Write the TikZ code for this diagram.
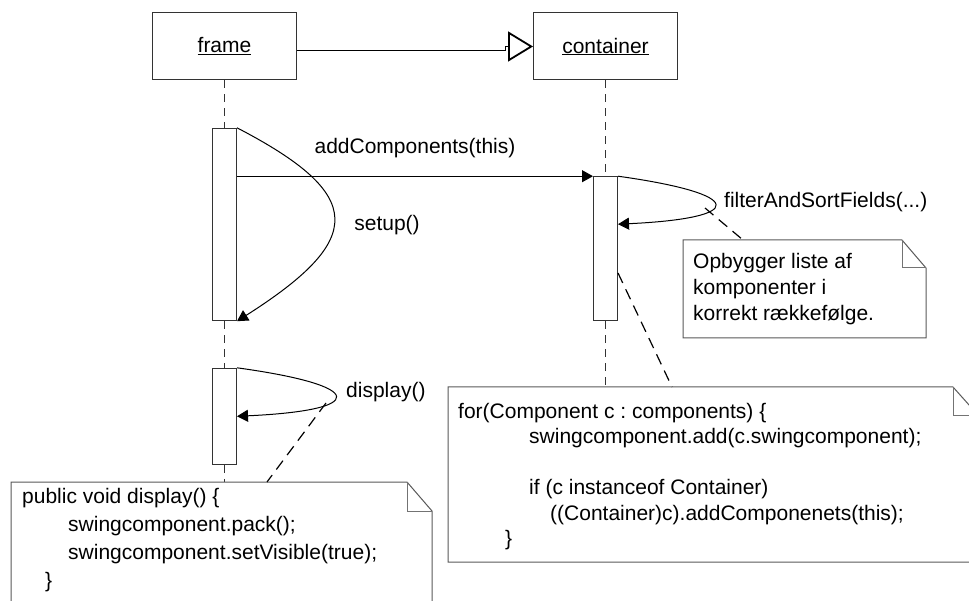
\documentclass[tikz,border=0pt]{standalone}
\usepackage{fontspec}
\setmainfont{Liberation Sans}
\usetikzlibrary{arrows.meta,calc}
\frenchspacing

\tikzset{
  txt/.style={font=\fontsize{21}{26}\selectfont},
  objbox/.style={draw=black!80, line width=1pt, minimum width=144pt, minimum height=67pt, inner sep=0pt, txt},
  actbox/.style={draw=black!80, fill=white, line width=1pt, minimum width=24pt, inner sep=0pt},
  lifeline/.style={draw=black!80, line width=1pt, dash pattern=on 8pt off 6pt},
  msg/.style={line width=1pt, -{Triangle[length=11pt,width=12pt]}},
  inherit/.style={line width=1pt, -{Triangle[open,length=25pt,width=30pt,line width=1.8pt]}},
  msglabel/.style={txt, inner sep=0pt},
  notebody/.style={draw=black!65, line width=1pt, fill=white},
  notefold/.style={draw=black!55, line width=1pt},
  notelink/.style={line width=1.2pt, dash pattern=on 11pt off 7pt},
  notetext/.style={txt, align=left, inner sep=0pt, anchor=north west},
}

\begin{document}
\begin{tikzpicture}[x=1pt, y=-1pt]
\clip (0,0) rectangle (969,601);

% objects
\node[objbox] (frame) at (224.5,46.5) {\underline{frame}};
\node[objbox] (container) at (605.5,46.5) {\underline{container}};

% generalisation from frame to container
\coordinate (jog) at (505,46.5);
\draw[inherit] (frame.east |- 0,51) -- (jog |- 0,51) -- (jog) -- (container.west);

% lifelines
\node[actbox, minimum height=192.4pt] (act1) at (224.5,224.5) {};
\node[actbox, minimum height=144pt]   (act2) at (605.5,248.7) {};
\node[actbox, minimum height=96pt]    (act3) at (224.5,416.3) {};

\coordinate (n3top) at (224.5,482);
\coordinate (n2top) at (605.5,387);
\draw[lifeline] (frame.south) -- (act1.north);
\draw[lifeline] (act1.south) -- (act3.north);
\draw[lifeline] (act3.south) -- (n3top);
\draw[lifeline] (container.south) -- (act2.north);
\draw[lifeline] (act2.south) -- (n2top);

% messages
\draw[msg] (act1.east |- act2.north) -- (act2.north west);
\node[msglabel] (lblAdd) at (415,148) {addComponents(this)};

\draw[msg] (act1.north east) .. controls +(129,67) and +(129,-82) .. (act1.south east);
\node[msglabel] (lblSetup) at (387,225) {setup()};

\coordinate (fret) at ($(act2.north east)+(0,48)$);
\draw[msg] (act2.north east) .. controls +(129,18) and +(129,-6) .. (fret);
\node[msglabel, anchor=west] (lblFilter) at (724,202) {filterAndSortFields(...)};

\coordinate (dret) at ($(act3.north east)+(0,48.5)$);
\draw[msg] (act3.north east) .. controls +(131,18) and +(131,-6) .. (dret);
\node[msglabel, anchor=west] (lblDisplay) at (346,392) {display()};

% note: field ordering
\draw[notebody] (683,240) -- (902,240) -- (926,268) -- (926,338) -- (683,338) -- cycle;
\draw[notefold] (902,240) -- (902,268) -- (926,268);
\node[notetext] (note1) at (693,253) {Opbygger liste af\\komponenter i\\korrekt rækkefølge.};

% note: addComponents body
\draw[notebody] (448,387) -- (953,387) -- (978,415) -- (978,562) -- (448,562) -- cycle;
\draw[notefold] (953,387) -- (953,415) -- (978,415);
\node[notetext, font=\fontsize{21}{25.4}\selectfont] (note2) at (458,403) {%
for(Component c : components) \{\\
\hspace*{71pt}swingcomponent.add(c.swingcomponent);\\[25.4pt]
\hspace*{71pt}if (c instanceof Container)\\
\hspace*{92pt}((Container)c).addComponenets(this);\\
\hspace*{47pt}\}};

% note: display body
\draw[notebody] (11,482) -- (407,482) -- (432,511) -- (432,640) -- (11,640) -- cycle;
\draw[notefold] (407,482) -- (407,511) -- (432,511);
\node[notetext, font=\fontsize{21}{28}\selectfont] (note3) at (22,488) {%
public void display() \{\\
\hspace*{46pt}swingcomponent.pack();\\
\hspace*{46pt}swingcomponent.setVisible(true);\\
\hspace*{23pt}\}};

% note links
\coordinate (l1a) at (705,208);
\coordinate (l1b) at (743,240);
\draw[notelink] (l1a) -- (l1b);
\coordinate (l2a) at (618,273);
\coordinate (l2b) at (672,387);
\draw[notelink] (l2a) -- (l2b);
\coordinate (l3a) at (326,403);
\coordinate (l3b) at (267,482);
\draw[notelink] (l3a) -- (l3b);
\end{tikzpicture}
\end{document}
